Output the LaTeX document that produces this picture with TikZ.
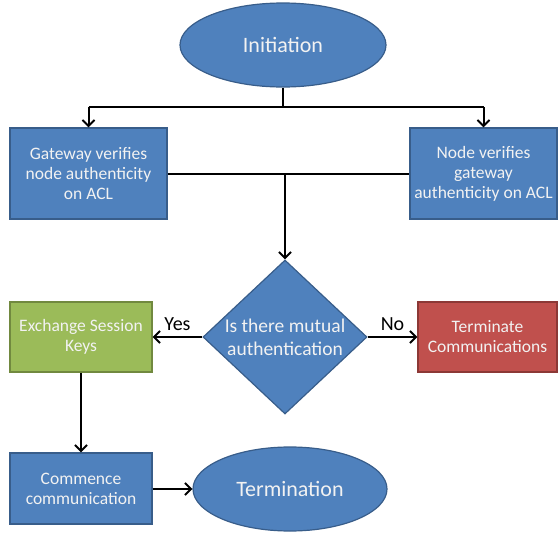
\documentclass[tikz,border=0pt]{standalone}
\usepackage{fontspec}
\setmainfont{Carlito}
\usetikzlibrary{shapes.geometric,arrows.meta}
\definecolor{bluefill}{HTML}{4F81BD}
\definecolor{blueline}{HTML}{385D8A}
\definecolor{greenfill}{HTML}{9BBB59}
\definecolor{greenline}{HTML}{71893F}
\definecolor{redfill}{HTML}{C0504D}
\definecolor{redline}{HTML}{8C3836}
\definecolor{boxtext}{HTML}{F2F2F2}
\tikzset{
  procbox/.style={rectangle, draw=blueline, fill=bluefill, line width=1.2pt,
    text=boxtext, align=center, inner sep=0pt,
    font=\fontsize{17.5}{20}\selectfont},
  greenbox/.style={procbox, draw=greenline, fill=greenfill},
  redbox/.style={procbox, draw=redline, fill=redfill},
  terminal/.style={ellipse, draw=blueline, fill=bluefill, line width=1.2pt,
    text=boxtext, inner sep=0pt, font=\fontsize{22}{26}\selectfont},
  decision/.style={diamond, draw=blueline, fill=bluefill, line width=1.2pt,
    inner sep=0pt},
  decisiontext/.style={text=boxtext, align=center,
    font=\fontsize{19.5}{23}\selectfont},
  flow/.style={line width=2pt, draw=black},
  arrow/.style={flow, -{Straight Barb[length=6pt,width=12pt,line width=2pt]}},
  branch/.style={font=\fontsize{20}{22}\selectfont, text=black},
}
\begin{document}
\begin{tikzpicture}[x=1pt,y=-1pt]
\useasboundingbox (0,0) rectangle (558,533);

% nodes
\node[terminal, minimum width=206pt, minimum height=84pt] (init) at (283,45) {Initiation};
\node[procbox, minimum width=157pt, minimum height=91pt] (gw) at (88.5,173.5)
  {Gateway verifies\\node authenticity\\on ACL};
\node[procbox, minimum width=147pt, minimum height=91pt] (nd) at (483.5,173.5)
  {Node verifies\\gateway\\authenticity on ACL};
\node[decision, minimum width=164pt, minimum height=154pt,
  label={[decisiontext]center:{Is there mutual\\authentication}}] (q) at (285,337) {};
\node[greenbox, minimum width=142pt, minimum height=70pt] (keys) at (81,337)
  {Exchange Session\\Keys};
\node[redbox, minimum width=139pt, minimum height=70pt] (stop) at (487.5,337)
  {Terminate\\Communications};
\node[procbox, minimum width=142pt, minimum height=71pt] (comm) at (81,488.5)
  {Commence\\communication};
\node[terminal, minimum width=194pt, minimum height=84pt] (term) at (290,489) {Termination};

% split below the start
\coordinate (split) at (283,107);
\coordinate (splitL) at (gw.north |- split);
\coordinate (splitR) at (nd.north |- split);
\draw[flow] (init.south) -- (split);
\draw[flow] (splitL) -- (splitR);
\draw[arrow] (splitL) -- (gw.north);
\draw[arrow] (splitR) -- (nd.north);

% join of the two checks
\coordinate (join) at (q.north |- gw.east);
\draw[flow] (gw.east) -- (nd.west);
\draw[arrow] (join) -- (q.north);

% decision branches
\draw[arrow] (q.west) -- (keys.east) node[branch, midway, above=2pt] {Yes};
\draw[arrow] (q.east) -- (stop.west) node[branch, midway, above=2pt] {No};
\draw[arrow] (keys.south) -- (comm.north);
\draw[arrow] (comm.east |- term.west) -- (term.west);
\end{tikzpicture}
\end{document}
